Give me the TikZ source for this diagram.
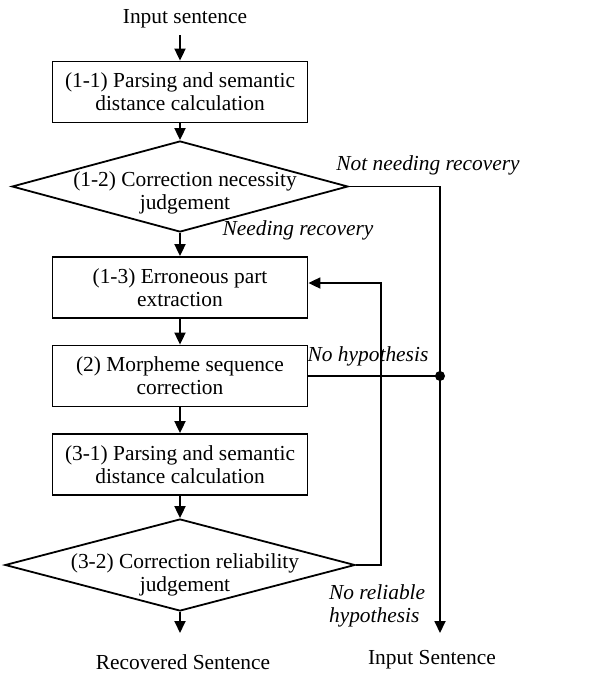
\documentclass[tikz,border=0pt]{standalone}
\usepackage{fontspec}
\setmainfont{Liberation Serif}
\usetikzlibrary{shapes.geometric,arrows.meta}
\tikzset{
  stepbox/.style={draw,line width=0.9pt,minimum width=127.5pt,minimum height=30.5pt,inner sep=0pt,align=center},
  decision/.style={draw,diamond,line width=0.9pt,inner sep=0pt},
  flow/.style={line width=0.9pt,-{Triangle[length=6pt,width=5.5pt]}},
  line/.style={line width=0.9pt},
  cond/.style={font=\fontsize{10.7}{11.4}\selectfont\itshape},
}
\begin{document}
\begin{tikzpicture}[x=0.5pt,y=-0.5pt,font=\fontsize{10.7}{11.4}\selectfont]
  \useasboundingbox (0,0) rectangle (589,675);
  % main column
  \node (in) at (185,19) {Input sentence};
  \node[stepbox] (b11) at (180,92) {(1-1) Parsing and semantic\\distance calculation};
  \node[decision,minimum width=168pt,minimum height=45.5pt,
    label={[align=center,xshift=2.5pt,yshift=-3pt]center:(1-2) Correction necessity\\judgement}] (d12) at (180,186.5) {};
  \node[stepbox] (b13) at (180,287.5) {(1-3) Erroneous part\\extraction};
  \node[stepbox] (b2) at (180,376) {(2) Morpheme sequence\\correction};
  \node[stepbox] (b31) at (180,464.5) {(3-1) Parsing and semantic\\distance calculation};
  \node[decision,minimum width=175pt,minimum height=46pt,
    label={[align=center,xshift=2.5pt,yshift=-5pt]center:(3-2) Correction reliability\\judgement}] (d32) at (180,565) {};
  \node (rec) at (183,662) {Recovered Sentence};
  \node (out) at (432,660) {Input Sentence};
  \draw[flow] (b11.north |- in.south) -- (b11.north);
  \foreach \a/\b in {b11/d12,d12/b13,b13/b2,b2/b31,b31/d32}
    \draw[flow] (\a.south) -- (\b.north);
  % exits
  \coordinate (outend) at (440,633);
  \coordinate (join) at (440,376);
  \coordinate (back) at (381,283);
  \draw[flow] (d32.south) -- (d32.south |- outend);
  \draw[flow] (d12.east) -| (outend);
  \draw[line] (b2.east) -- (join);
  \fill (join) circle (2.5pt);
  \draw[flow] (d32.east) -| (back) -- (back -| b13.east);
  % branch labels
  \node[cond] (notneed) at (428,165) {Not needing recovery};
  \node[cond] (need) at (298,230) {Needing recovery};
  \node[cond] (nohyp) at (368,356) {No hypothesis};
  \node[cond,align=left,anchor=west] (norel) at (322,606) {No reliable\\hypothesis};
\end{tikzpicture}
\end{document}
